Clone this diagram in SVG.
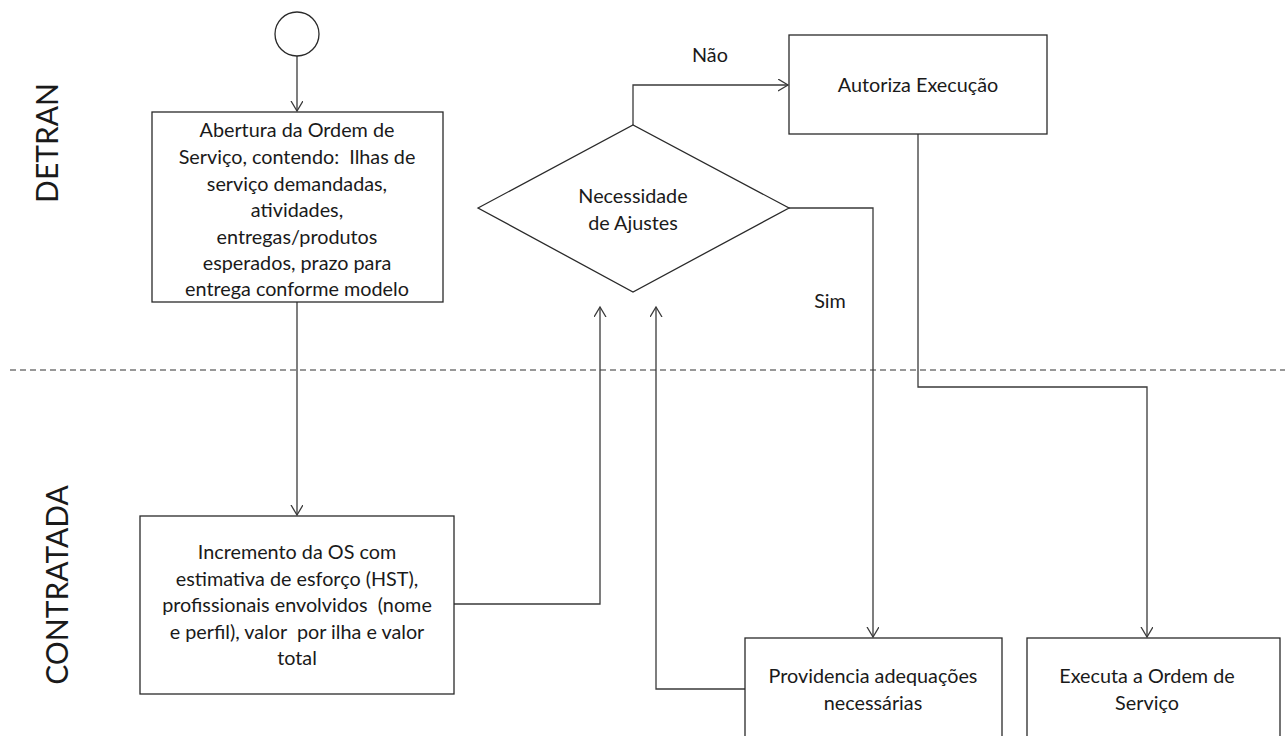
<svg xmlns="http://www.w3.org/2000/svg" width="1285" height="736" viewBox="0 0 1285 736">
<style>
.box{fill:#fff;stroke:#2a2a2a;stroke-width:1.3}
.t{font-family:Lato,"Open Sans","Liberation Sans",sans-serif;font-size:19.8px;fill:#1a1a1a;text-anchor:middle;white-space:pre}
.lane{font-family:Lato,"Open Sans","Liberation Sans",sans-serif;font-size:30px;fill:#1a1a1a;text-anchor:middle}
.c{fill:none;stroke:#3a3a3a;stroke-width:1.3}
</style>
<defs>
<marker id="arr" markerWidth="16" markerHeight="16" refX="10" refY="6" orient="auto" markerUnits="userSpaceOnUse">
<path d="M0,0 L10,6 L0,12" fill="none" stroke="#3a3a3a" stroke-width="1.3"/>
</marker>
</defs>
<rect width="1285" height="736" fill="#fff"/>
<line x1="10" y1="370" x2="1285" y2="370" stroke="#333" stroke-width="1.2" stroke-dasharray="6,4"/>
<text class="lane" transform="translate(58,143) rotate(-90)">DETRAN</text>
<text class="lane" transform="translate(68,585) rotate(-90)">CONTRATADA</text>
<g id="connectors">
<path class="c" d="M297,56 V111" marker-end="url(#arr)"/>
<path class="c" d="M297,302 V515" marker-end="url(#arr)"/>
<path class="c" d="M454,604 H600 V307" marker-end="url(#arr)"/>
<path class="c" d="M745,689 H656 V307" marker-end="url(#arr)"/>
<path class="c" d="M633,125 V85 H788" marker-end="url(#arr)"/>
<path class="c" d="M789,208 H873 V637" marker-end="url(#arr)"/>
<path class="c" d="M918,134 V387 H1147 V637" marker-end="url(#arr)"/>
<text class="t" x="710" y="62">Não</text>
<text class="t" x="830" y="308">Sim</text>
</g>
<g id="start"><circle cx="297" cy="34" r="22" fill="#fff" stroke="#2a2a2a" stroke-width="1.3"/></g>
<g id="abertura">
<rect class="box" x="152" y="112" width="291" height="190"/>
<text class="t"><tspan x="297" y="137">Abertura da Ordem de</tspan><tspan x="297" y="164">Serviço, contendo:  Ilhas de</tspan><tspan x="297" y="191">serviço demandadas,</tspan><tspan x="297" y="217">atividades,</tspan><tspan x="297" y="244">entregas/produtos</tspan><tspan x="297" y="270">esperados, prazo para</tspan><tspan x="297" y="296">entrega conforme modelo</tspan></text>
</g>
<g id="incremento">
<rect class="box" x="140" y="516" width="314" height="178"/>
<text class="t"><tspan x="297" y="559">Incremento da OS com</tspan><tspan x="297" y="586">estimativa de esforço (HST),</tspan><tspan x="297" y="612">profissionais envolvidos  (nome</tspan><tspan x="297" y="639">e perfil), valor  por ilha e valor</tspan><tspan x="297" y="665">total</tspan></text>
</g>
<g id="decisao">
<polygon class="box" points="478,208 633,125 789,208 633,292"/>
<text class="t"><tspan x="633" y="203">Necessidade</tspan><tspan x="633" y="230">de Ajustes</tspan></text>
</g>
<g id="autoriza">
<rect class="box" x="789" y="35" width="258" height="99"/>
<text class="t" x="918" y="92">Autoriza Execução</text>
</g>
<g id="providencia">
<rect class="box" x="745" y="638" width="257" height="110"/>
<text class="t"><tspan x="873" y="683">Providencia adequações</tspan><tspan x="873" y="710">necessárias</tspan></text>
</g>
<g id="executa">
<rect class="box" x="1027" y="638" width="253" height="110"/>
<text class="t"><tspan x="1147" y="683">Executa a Ordem de</tspan><tspan x="1147" y="710">Serviço</tspan></text>
</g>
</svg>
